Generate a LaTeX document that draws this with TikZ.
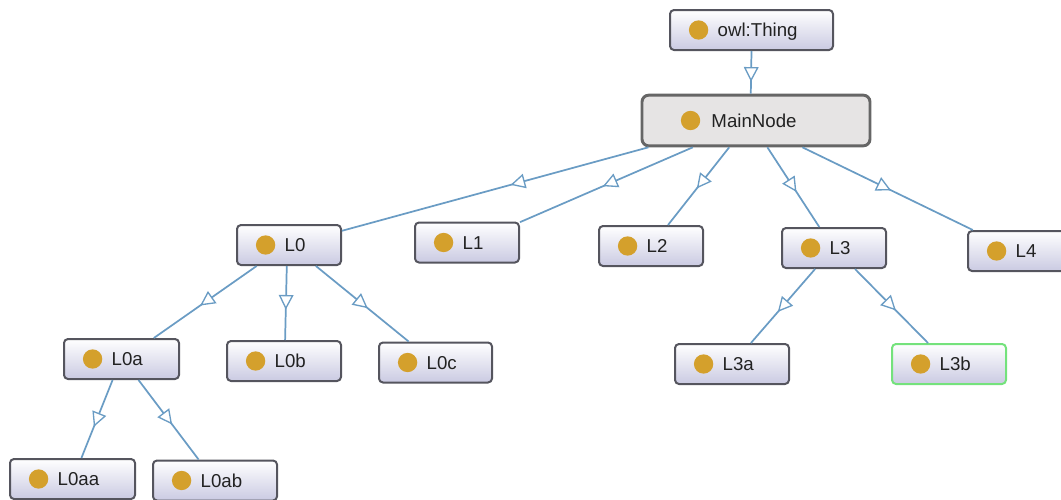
\documentclass[tikz,border=0pt]{standalone}
\usepackage{fontspec}
\setmainfont{Liberation Sans}
\usetikzlibrary{arrows.meta,decorations.markings}
\definecolor{boxline}{HTML}{55555E}
\definecolor{boxbot}{HTML}{CACAE2}
\definecolor{mainfill}{HTML}{E6E4E4}
\definecolor{mainline}{HTML}{666666}
\definecolor{selline}{HTML}{74E27C}
\definecolor{edgeblue}{HTML}{6A9CC4}
\definecolor{dotgold}{HTML}{D4A02C}
\definecolor{lbl}{HTML}{222222}
\tikzset{
    classbox/.style={draw=boxline, line width=1.5pt, rounded corners=3pt, top color=white, bottom color=boxbot, minimum height=30pt, inner sep=0pt},
    mainbox/.style={draw=mainline, line width=2.2pt, rounded corners=5pt, fill=mainfill, minimum width=171pt, minimum height=38pt, inner sep=0pt},
    selbox/.style={draw=selline},
    classdot/.style={circle, fill=dotgold, minimum size=14.5pt, inner sep=0pt},
    classlbl/.style={anchor=base west, inner sep=0pt, text=lbl, font=\fontsize{14}{16}\selectfont},
    subclass/.style={draw=edgeblue, line width=1.3pt, postaction={decorate}, decoration={markings, mark=at position #1 with {\arrow{Triangle[length=11pt, width=11pt, fill=white, line width=1pt]}}}},
    subclass/.default=0.55
}
\begin{document}
\begin{tikzpicture}[x=0.75pt, y=-0.75pt]
    \useasboundingbox (0, 0) rectangle (1061, 500);
    \clip (0, 0) rectangle (1061, 500);
    \foreach \nm/\x/\y/\w in {thing/751.5/30/163, l0/289/245/104, l1/467/242.5/104, l2/651/246/104, l3/834/248/104, l4/1020/251/104, l0a/121.5/359/115, l0b/284/361/114, l0c/435.5/362.5/113, l3a/732/364/114, l0aa/72.5/479/125, l0ab/215/480.5/124}
        \node[classbox, minimum width=\w*0.75pt] (\nm) at (\x, \y) {};
    \node[classbox, selbox, minimum width=85.5pt] (l3b) at (949, 364) {};
    \node[mainbox] (main) at (756, 120.5) {};
    \foreach \from/\fa/\to/\ta/\p in {thing/270/main/101.3/0.72, main/194.9/l0/15/0.45, main/203.1/l1/21/0.52, main/225.6/l2/51.3/0.53, main/293.3/l3/125/0.56, main/330.5/l4/156/0.52, l0/213.7/l0a/33.3/0.55, l0/264.3/l0b/87/0.59, l0/322.4/l0c/142.6/0.56, l3/228/l3a/48/0.58, l3/315/l3b/135/0.56, l0a/247/l0aa/67/0.6, l0a/309.5/l0ab/128/0.56}
        \draw[subclass=\p] (\from.\fa) -- (\to.\ta);
    \foreach \nm/\txt in {thing/owl:Thing, l0/L0, l1/L1, l2/L2, l3/L3, l4/L4, l0a/L0a, l0b/L0b, l0c/L0c, l3a/L3a, l3b/L3b, l0aa/L0aa, l0ab/L0ab} {
        \node[classdot] (\nm dot) at ([xshift=22.2pt]\nm.west) {};
        \node[classlbl] (\nm txt) at ([xshift=36.3pt, yshift=-5pt]\nm.west) {\txt};
    }
    \node[classdot] (maindot) at ([xshift=37.5pt]main.west) {};
    \node[classlbl] (maintxt) at ([xshift=53pt, yshift=-5pt]main.west) {MainNode};
\end{tikzpicture}
\end{document}
